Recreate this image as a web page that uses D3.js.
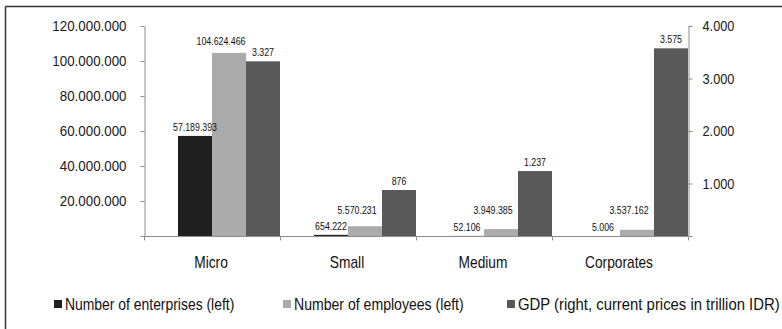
<!DOCTYPE html>
<html>
<head>
<meta charset="utf-8">
<script src="https://cdn.jsdelivr.net/npm/d3@7"></script>
<style>
  html, body { margin: 0; padding: 0; background: #fff; }
  svg { display: block; }
  text { font-family: "Liberation Sans", Arial, sans-serif; }
</style>
</head>
<body>
<svg id="chart" width="782" height="329"></svg>
<script>
// ---- data ----
const categories = ["Micro", "Small", "Medium", "Corporates"];
const enterprises = [57189393, 654222, 52106, 5006];
const employees = [104624466, 5570231, 3949385, 3537162];
const gdp = [3327, 876, 1237, 3575];
const leftTicks = [20000000, 40000000, 60000000, 80000000, 100000000, 120000000];
const rightTicks = [1000, 2000, 3000, 4000];
const seriesNames = ["Number of enterprises (left)", "Number of employees (left)", "GDP (right, current prices in trillion IDR)"];

// ---- setup ----
const W = 782, H = 329;
const svg = d3.select("#chart");
const colors = ["#1f1f1f", "#ababab", "#595959"];
const loc = d3.formatLocale({decimal: ",", thousands: ".", grouping: [3], currency: ["", ""]});
const fmt = loc.format(",d");

// horizontally condense text (the original uses a narrow face)
function condense(sel, f) {
  sel.each(function () {
    const t = d3.select(this);
    const tx = +t.attr("x") || 0, ty = +t.attr("y") || 0;
    t.attr("x", 0).attr("y", 0).attr("transform", `translate(${tx},${ty}) scale(${f},1)`);
  });
}

const plot = {left: 144, right: 688, top: 26, bottom: 236};

const x = d3.scaleBand().domain(categories).range([plot.left, plot.right]).padding(0);
const yL = d3.scaleLinear().domain([0, 120000000]).range([plot.bottom, plot.top]);
const yR = d3.scaleLinear().domain([0, 4000]).range([plot.bottom, plot.top]);

// frame lines (top and left)
svg.append("line").attr("x1", 5.5).attr("x2", W).attr("y1", 6.5).attr("y2", 6.5)
  .attr("stroke", "#333").attr("stroke-width", 1.5);
svg.append("line").attr("x1", 5.5).attr("x2", 5.5).attr("y1", 6.5).attr("y2", H)
  .attr("stroke", "#333").attr("stroke-width", 1.5);

const axisColor = "#8c8c8c";

// left axis
const gL = svg.append("g").attr("transform", `translate(${plot.left + 0.5},0)`)
  .call(d3.axisLeft(yL).tickValues([0].concat(leftTicks)).tickSize(4).tickSizeOuter(0)
    .tickFormat(d => d === 0 ? "" : fmt(d)));
gL.select(".domain").attr("stroke", axisColor);
gL.selectAll(".tick line").attr("stroke", axisColor);
gL.selectAll(".tick text").attr("x", -18).attr("y", 0).attr("dy", "0.32em").attr("fill", "#1a1a1a")
  .style("font-size", "14.5px");
condense(gL.selectAll(".tick text"), 0.92);

// right axis
const gR = svg.append("g").attr("transform", `translate(${plot.right + 0.5},0)`)
  .call(d3.axisRight(yR).tickValues([0].concat(rightTicks)).tickSize(4).tickSizeOuter(0)
    .tickFormat(d => d === 0 ? "" : fmt(d)));
gR.select(".domain").attr("stroke", axisColor);
gR.selectAll(".tick line").attr("stroke", axisColor);
gR.selectAll(".tick text").attr("x", 14).attr("y", 0).attr("dy", "0.32em").attr("fill", "#1a1a1a")
  .style("font-size", "14.5px");
condense(gR.selectAll(".tick text"), 0.88);

// x axis baseline with ticks at category boundaries
const gX = svg.append("g").attr("transform", `translate(0,${plot.bottom + 0.5})`);
gX.append("line").attr("x1", plot.left).attr("x2", plot.right).attr("stroke", axisColor);
const bounds = categories.map(c => x(c)).concat([plot.right]);
gX.selectAll("line.b").data(bounds).join("line").attr("class", "b")
  .attr("x1", d => d + 0.5).attr("x2", d => d + 0.5).attr("y1", 0).attr("y2", 4)
  .attr("stroke", axisColor);
const catText = gX.selectAll("text").data(categories).join("text")
  .attr("x", d => x(d) + x.bandwidth() / 2 - 1).attr("y", 31)
  .attr("text-anchor", "middle").attr("fill", "#111").style("font-size", "16px")
  .text(d => d);
condense(catText, 0.86);

// bars
const sub = x.bandwidth() / 4;
const series = [
  {vals: enterprises, scale: yL, off: 1},
  {vals: employees, scale: yL, off: 2},
  {vals: gdp, scale: yR, off: 3}
];
const barG = svg.append("g");
const labG = svg.append("g");
series.forEach((s, si) => {
  barG.append("g").selectAll("rect").data(categories).join("rect")
    .attr("x", (c) => x(c) + s.off * sub)
    .attr("width", sub)
    .attr("y", (c, i) => s.scale(s.vals[i]))
    .attr("height", (c, i) => plot.bottom - s.scale(s.vals[i]))
    .attr("fill", colors[si]);
  const t = labG.append("g").selectAll("text").data(categories).join("text")
    .each(function (c, i) {
      const top = s.scale(s.vals[i]);
      let lx = x(c) + s.off * sub + sub / 2;
      let ly = top - 5;
      if (si === 1) {
        // employees labels sit higher and slightly left to avoid the neighbours
        lx -= 8;
        ly = Math.min(top - 8, plot.bottom - 22);
      }
      d3.select(this).attr("x", lx).attr("y", ly);
    })
    .attr("text-anchor", "middle").attr("fill", "#111").style("font-size", "11px")
    .text((c, i) => fmt(s.vals[i]));
  condense(t, 0.8);
});

// legend
const legendX = [54, 283, 507];
const legendF = [0.87, 0.88, 0.93];
const lg = svg.append("g");
seriesNames.forEach((name, i) => {
  lg.append("rect").attr("x", legendX[i]).attr("y", 300).attr("width", 8).attr("height", 8)
    .attr("fill", colors[i]);
  const t = lg.append("text")
    .attr("x", legendX[i] + 11).attr("y", 309.5)
    .attr("fill", "#111").style("font-size", "16px").text(name);
  condense(t, legendF[i]);
});
</script>
</body>
</html>
